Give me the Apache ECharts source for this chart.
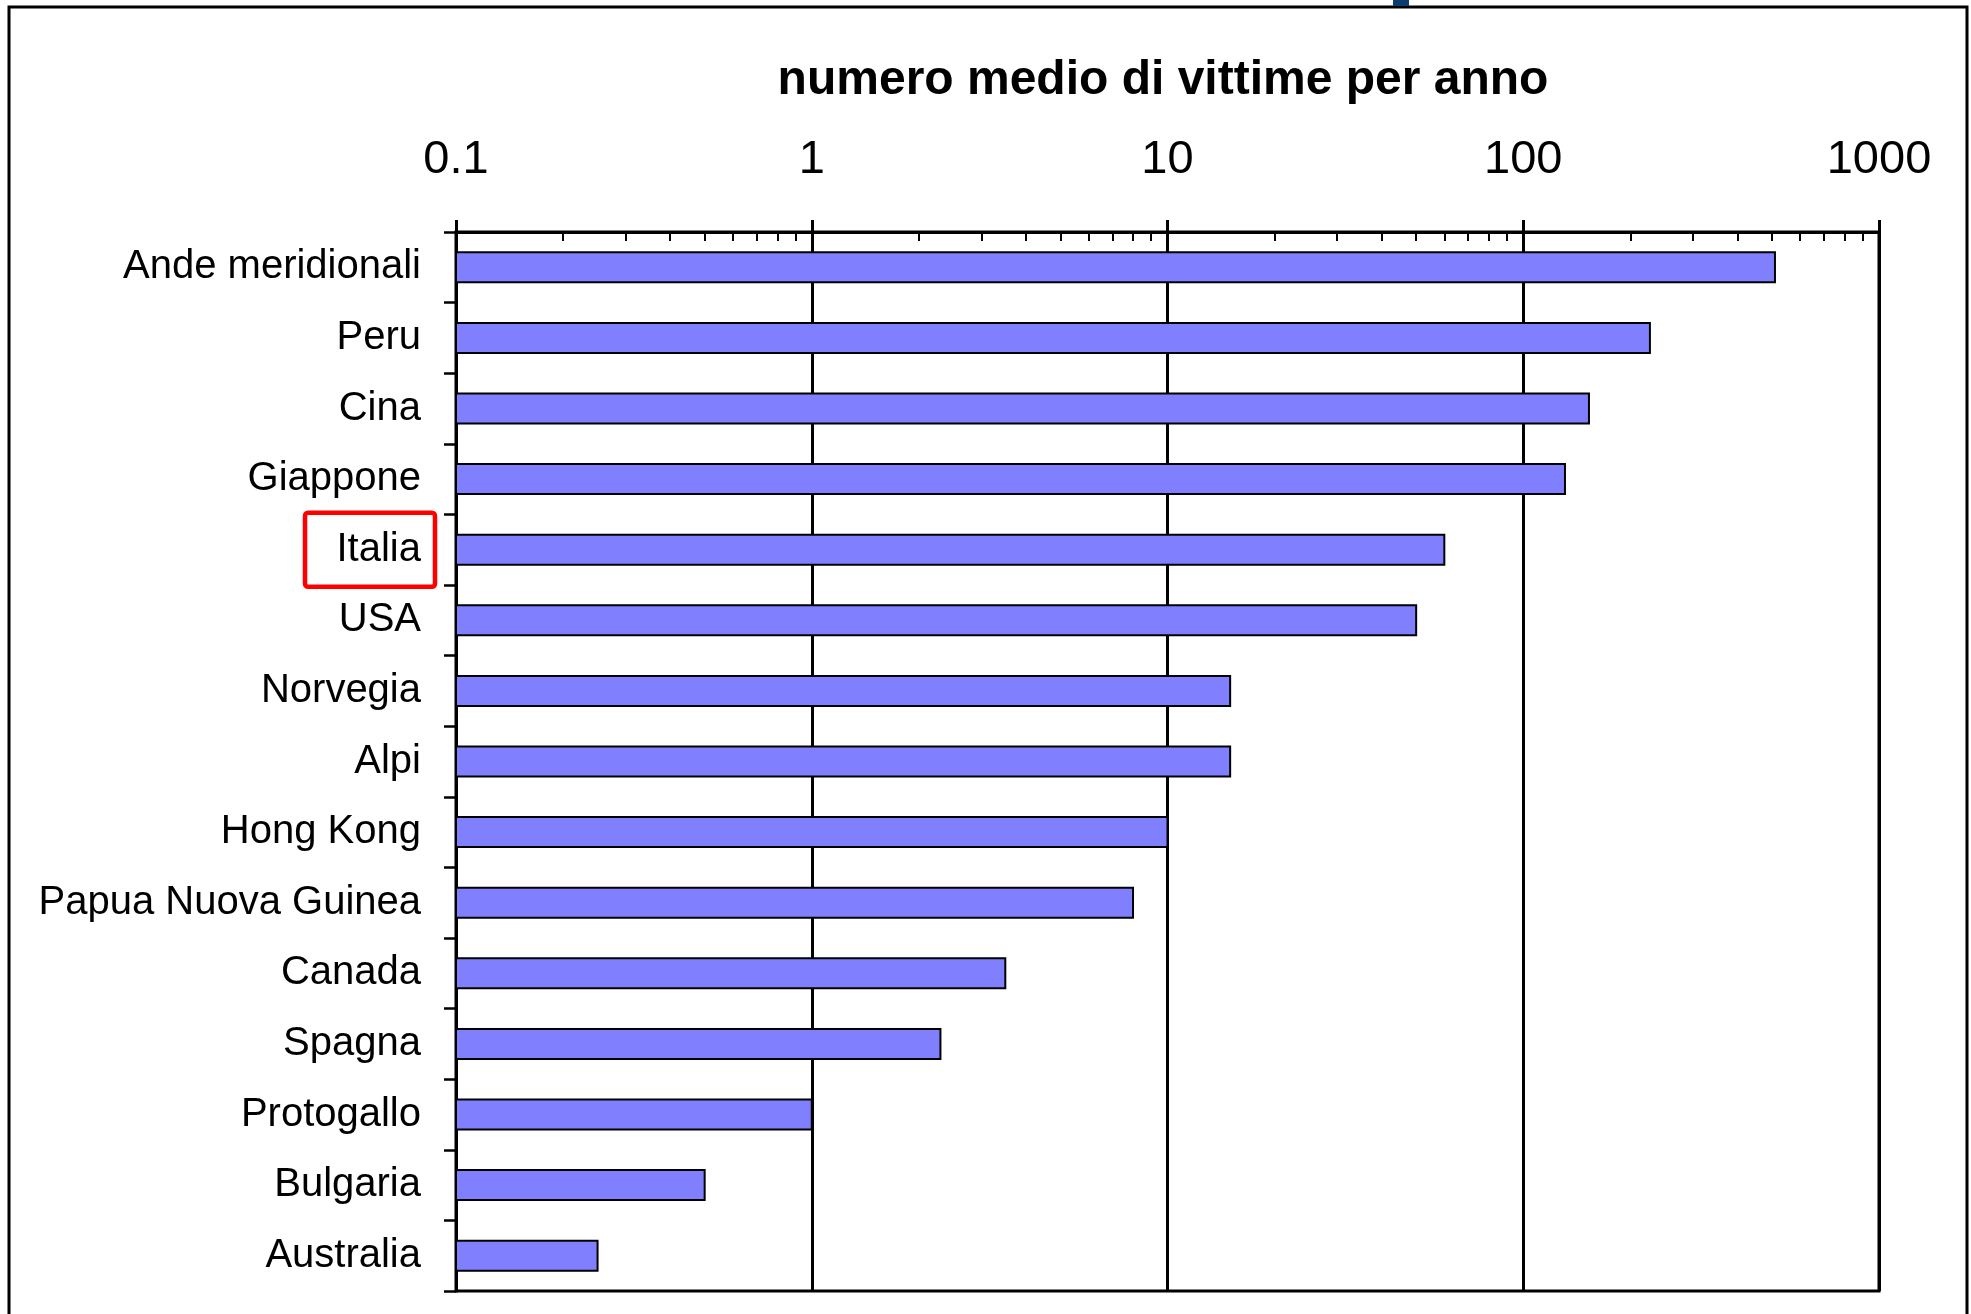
<!DOCTYPE html>
<html>
<head>
<meta charset="utf-8">
<script src="https://cdn.jsdelivr.net/npm/echarts@6/dist/echarts.min.js"></script>
<style>
html,body{margin:0;padding:0;background:#fff;}
#chart{width:1971px;height:1314px;}
</style>
</head>
<body>
<div id="chart"></div>
<script>
var categories = ["Ande meridionali","Peru","Cina","Giappone","Italia","USA","Norvegia","Alpi","Hong Kong","Papua Nuova Guinea","Canada","Spagna","Protogallo","Bulgaria","Australia"];
var values = [510, 227, 153, 131, 60, 50, 15, 15, 10, 8, 3.5, 2.3, 1, 0.5, 0.25];
var tickValues = [0.1, 1, 10, 100, 1000];
var tickLabels = ["0.1", "1", "10", "100", "1000"];
var titleText = "numero medio di vittime per anno";
var highlighted = "Italia";

// minor tick positions (2..9 within each decade), expressed in log10 space
var minorTicks = [];
for (var d = 0; d < tickValues.length - 1; d++) {
  for (var m = 2; m <= 9; m++) {
    minorTicks.push(Math.log10(tickValues[d] * m));
  }
}

var FONT = "'Liberation Sans', Arial, sans-serif";
var gridRect = {left: 456, right: 92, top: 232, bottom: 23};

var chart = echarts.init(document.getElementById('chart'), null, {renderer: 'canvas'});
var option = {
  animation: false,
  backgroundColor: '#ffffff',
  grid: [
    Object.assign({show: true, borderColor: '#000', borderWidth: 3, backgroundColor: 'transparent', containLabel: false}, gridRect),
    Object.assign({show: false, containLabel: false}, gridRect)
  ],
  xAxis: [
    {
      type: 'log', logBase: 10, min: tickValues[0], max: tickValues[tickValues.length - 1], position: 'top', gridIndex: 0,
      axisLine: {show: true, onZero: false, lineStyle: {color: '#000', width: 3}},
      axisTick: {show: true, inside: false, length: 12, lineStyle: {color: '#000', width: 3}},
      axisLabel: {
        show: true, margin: 48, fontSize: 47, color: '#000', fontFamily: FONT,
        formatter: function (v) {
          var best = 0, bd = Infinity;
          for (var i = 0; i < tickValues.length; i++) {
            var dd = Math.abs(Math.log10(v) - Math.log10(tickValues[i]));
            if (dd < bd) { bd = dd; best = i; }
          }
          return tickLabels[best];
        }
      },
      splitLine: {show: true, lineStyle: {color: '#000', width: 3}},
      minorTick: {show: false}
    },
    {
      type: 'value', min: -1, max: 3, position: 'top', gridIndex: 1,
      axisLine: {show: false, onZero: false},
      axisTick: {show: true, inside: true, length: 9, customValues: minorTicks, lineStyle: {color: '#000', width: 2}},
      axisLabel: {show: false},
      splitLine: {show: false}
    }
  ],
  yAxis: [
    {
      type: 'category', inverse: true, data: categories, gridIndex: 0,
      axisLine: {show: true, onZero: false, lineStyle: {color: '#000', width: 3}},
      axisTick: {show: true, inside: false, length: 12, lineStyle: {color: '#000', width: 2.5}},
      axisLabel: {show: true, margin: 35, fontSize: 40, color: '#000', fontFamily: FONT},
      splitLine: {show: false}
    },
    {
      type: 'value', gridIndex: 1, show: false, min: 0, max: 1
    }
  ],
  series: [
    {
      type: 'custom', xAxisIndex: 0, yAxisIndex: 0,
      data: values.map(function (v, i) { return [v, categories[i]]; }),
      encode: {x: 0, y: 1},
      renderItem: function (params, api) {
        var end = api.coord([api.value(0), api.value(1)]);
        var start = api.coord([tickValues[0], api.value(1)]);
        var band = api.size([0, 1])[1];
        var h = band * 0.425;
        return {
          type: 'rect',
          shape: {x: start[0], y: end[1] - h / 2, width: end[0] - start[0], height: h},
          style: {fill: '#8080FF', stroke: '#000', lineWidth: 2}
        };
      }
    }
  ]
};
chart.setOption(option);

var italiaY = chart.convertToPixel({yAxisIndex: 0}, highlighted);
chart.setOption({
  graphic: [
    {
      type: 'rect', z: 100, silent: true,
      shape: {x: 9, y: 7, width: 1958, height: 1400},
      style: {fill: 'none', stroke: '#000', lineWidth: 3}
    },
    {
      type: 'rect', z: 101, silent: true,
      shape: {x: 1393, y: 0, width: 16, height: 6},
      style: {fill: '#0b3d6f'}
    },
    {
      type: 'text', z: 100, silent: true,
      x: 1163, y: 81,
      style: {text: titleText, fill: '#000', font: 'bold 48px ' + FONT, textAlign: 'center', textVerticalAlign: 'middle'}
    },
    {
      type: 'rect', z: 100, silent: true,
      shape: {x: 305, y: italiaY - 37, width: 130, height: 74, r: 3},
      style: {fill: 'none', stroke: '#ff0000', lineWidth: 4.5}
    }
  ]
});
</script>
</body>
</html>
